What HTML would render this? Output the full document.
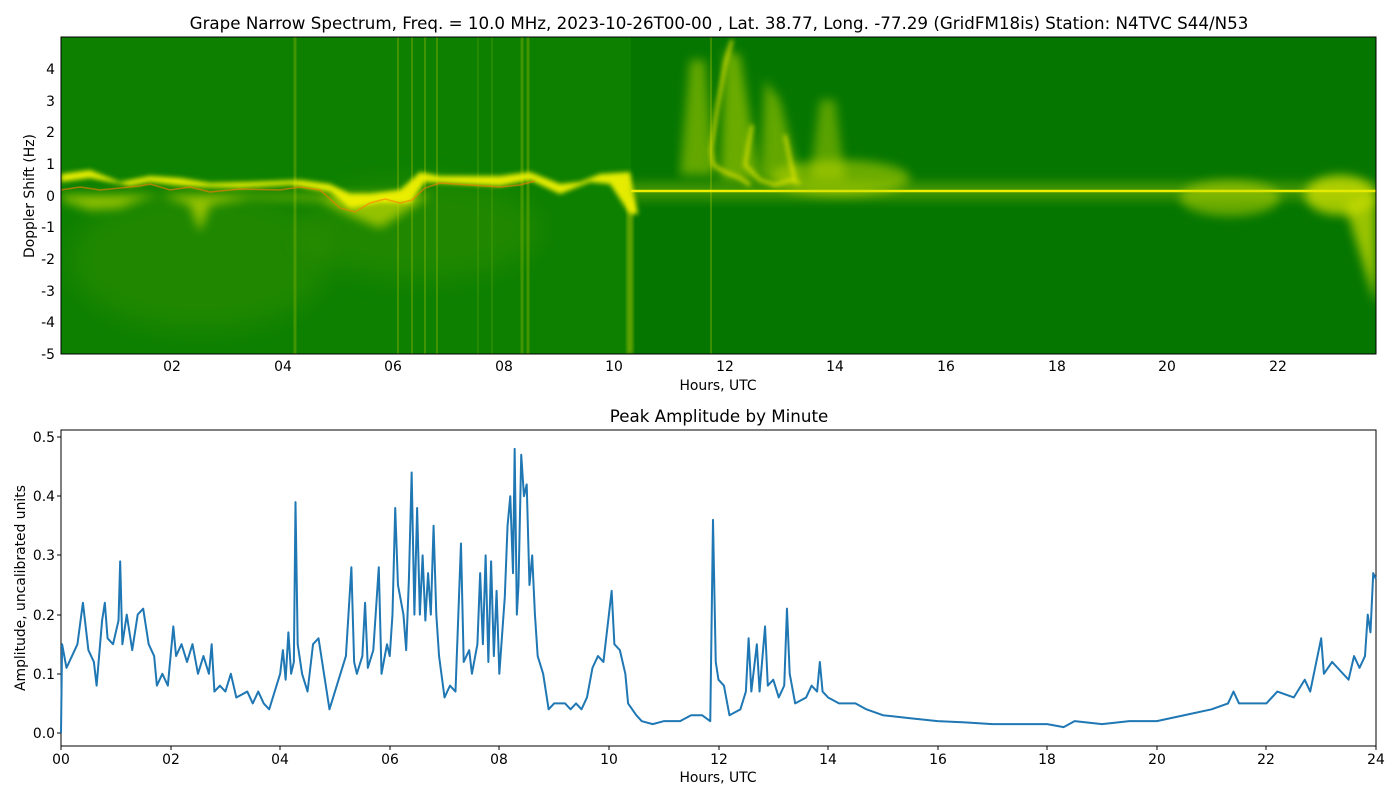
<!DOCTYPE html>
<html><head><meta charset="utf-8"><style>
body{margin:0;background:#fff;width:1400px;height:800px;overflow:hidden;font-family:"Liberation Sans","DejaVu Sans",sans-serif}
svg text{font-family:"DejaVu Sans","Liberation Sans",sans-serif;fill:#000}
</style></head><body>
<svg width="1400" height="800" xmlns="http://www.w3.org/2000/svg">
<defs>
<filter id="b6" x="-20%" y="-50%" width="140%" height="200%"><feGaussianBlur stdDeviation="5"/></filter>
<filter id="b3" x="-20%" y="-50%" width="140%" height="200%"><feGaussianBlur stdDeviation="2.5"/></filter>
<filter id="b12" x="-20%" y="-50%" width="140%" height="200%"><feGaussianBlur stdDeviation="12"/></filter>
<clipPath id="cp"><rect x="61" y="37" width="1315" height="317"/></clipPath>
</defs>
<text x="719" y="29" font-size="16.7" text-anchor="middle">Grape Narrow Spectrum, Freq. = 10.0 MHz, 2023-10-26T00-00 , Lat.  38.77, Long. -77.29 (GridFM18is) Station: N4TVC S44/N53</text>
<g clip-path="url(#cp)">
<rect x="61" y="37" width="1315" height="317" fill="#057600"/>
<rect x="61" y="37" width="570" height="317" fill="#0d8000"/>
<ellipse cx="200" cy="260" rx="130" ry="70" fill="#4a9a00" opacity="0.3" filter="url(#b12)"/>
<ellipse cx="420" cy="230" rx="120" ry="50" fill="#4a9a00" opacity="0.3" filter="url(#b12)"/>
<g stroke="#7fb000" opacity="0.45">
<line x1="295" y1="37" x2="295" y2="354" stroke-width="3"/>
<line x1="398" y1="37" x2="398" y2="354" stroke-width="2"/>
<line x1="412" y1="37" x2="412" y2="354" stroke-width="2"/>
<line x1="425" y1="37" x2="425" y2="354" stroke-width="2"/>
<line x1="437" y1="37" x2="437" y2="354" stroke-width="2"/>
<line x1="478" y1="37" x2="478" y2="354" stroke-width="1"/>
<line x1="492" y1="37" x2="492" y2="354" stroke-width="1"/>
<line x1="522" y1="37" x2="522" y2="354" stroke-width="3"/>
<line x1="528" y1="37" x2="528" y2="354" stroke-width="3"/>
<line x1="711" y1="37" x2="711" y2="354" stroke-width="2"/>
</g>
<rect x="627" y="200" width="6" height="154" fill="#b0c800" opacity="0.6" filter="url(#b3)"/>
<!-- main yellow band -->
<path d="M61,200 L90,210 L120,208 L140,200 L160,195 L190,205 L200,232 L210,205 L250,198 L320,200 L350,215 L380,228 L400,215 L430,195 L61,195 Z" fill="#c8dc00" opacity="0.7" filter="url(#b6)"/>
<path d="M61,182 L90,178 L130,186 L150,182 L175,185 L200,187 L240,188 L290,185 L330,192 L350,208 L380,203 L410,203 L425,182 L460,184 L500,186 L530,180 L560,194 L590,182 L610,184 L630,214 L638,214 L630,172 L600,174 L580,182 L560,184 L530,172 L500,176 L470,176 L440,176 L420,172 L400,190 L370,194 L350,194 L330,184 L300,180 L250,182 L210,183 L180,178 L150,176 L120,182 L90,170 L61,174 Z" fill="#f2f200" opacity="0.95" filter="url(#b3)"/>
<polyline points="61,190 80,187 100,190 120,188 140,186 150,184 170,190 190,187 210,192 240,189 280,190 300,187 320,190 340,208 355,212 370,203 385,199 400,203 412,200 425,188 440,183 470,185 500,187 520,185 535,181" fill="none" stroke="#ff7a00" stroke-width="1.5" opacity="0.6"/>
<!-- right side band -->
<rect x="631" y="182" width="745" height="18" fill="#a8cc00" opacity="0.35" filter="url(#b6)"/>
<line x1="631" y1="191" x2="1376" y2="191" stroke="#eeee00" stroke-width="2.5"/>
<ellipse cx="1230" cy="198" rx="50" ry="18" fill="#c8dc00" opacity="0.5" filter="url(#b6)"/>
<ellipse cx="1340" cy="195" rx="35" ry="20" fill="#e0e800" opacity="0.7" filter="url(#b6)"/>
<path d="M1345,205 L1376,305 L1376,195 Z" fill="#d8e400" opacity="0.7" filter="url(#b6)"/>
<ellipse cx="840" cy="178" rx="70" ry="18" fill="#c0d800" opacity="0.55" filter="url(#b6)"/>
<!-- 11-14h traces -->
<path d="M690,60 L705,60 L715,175 L680,175 Z" fill="#c0d800" opacity="0.5" filter="url(#b6)"/>
<path d="M725,50 L740,55 L760,180 L720,180 Z" fill="#c0d800" opacity="0.55" filter="url(#b6)"/>
<path d="M765,80 L780,100 L800,180 L760,180 Z" fill="#c0d800" opacity="0.5" filter="url(#b6)"/>
<path d="M820,100 L835,100 L845,180 L810,180 Z" fill="#c0d800" opacity="0.45" filter="url(#b6)"/>
<g filter="url(#b3)" opacity="0.9">
<polyline points="732,40 725,65 717,110 711,150 713,165 725,172 740,178 750,185" fill="none" stroke="#f0e800" stroke-width="3"/>
<polyline points="752,125 745,165 760,180 775,185 790,180 800,183" fill="none" stroke="#e8e800" stroke-width="3"/>
<polyline points="785,135 790,160 795,180" fill="none" stroke="#e8e800" stroke-width="3"/>
</g>
</g>
<rect x="61" y="37" width="1315" height="317" fill="none" stroke="#000" stroke-width="1"/>
<g font-size="13.9" text-anchor="end">
<text x="55" y="74">4</text><text x="55" y="106">3</text><text x="55" y="137">2</text><text x="55" y="169">1</text><text x="55" y="201">0</text><text x="55" y="232">-1</text><text x="55" y="264">-2</text><text x="55" y="296">-3</text><text x="55" y="327">-4</text><text x="55" y="359">-5</text>
</g>
<g font-size="13.9" text-anchor="middle">
<text x="172" y="371">02</text><text x="283" y="371">04</text><text x="393" y="371">06</text><text x="504" y="371">08</text><text x="614" y="371">10</text><text x="725" y="371">12</text><text x="835" y="371">14</text><text x="946" y="371">16</text><text x="1057" y="371">18</text><text x="1167" y="371">20</text><text x="1278" y="371">22</text>
<text x="718" y="390">Hours, UTC</text>
</g>
<text transform="translate(34,196) rotate(-90)" font-size="13.9" text-anchor="middle">Doppler Shift (Hz)</text>

<text x="719" y="422" font-size="16.7" text-anchor="middle">Peak Amplitude by Minute</text>
<rect x="61" y="430" width="1315" height="316" fill="none" stroke="#000" stroke-width="1"/>
<g stroke="#000">
<line x1="57" y1="733" x2="61" y2="733"/><line x1="57" y1="674" x2="61" y2="674"/><line x1="57" y1="615" x2="61" y2="615"/><line x1="57" y1="555" x2="61" y2="555"/><line x1="57" y1="496" x2="61" y2="496"/><line x1="57" y1="437" x2="61" y2="437"/>
</g>
<g font-size="13.9" text-anchor="end">
<text x="55" y="738">0.0</text><text x="55" y="679">0.1</text><text x="55" y="620">0.2</text><text x="55" y="560">0.3</text><text x="55" y="501">0.4</text><text x="55" y="442">0.5</text>
</g>
<g stroke="#000">
<line x1="61" y1="746" x2="61" y2="750"/><line x1="171" y1="746" x2="171" y2="750"/><line x1="280" y1="746" x2="280" y2="750"/><line x1="390" y1="746" x2="390" y2="750"/><line x1="499" y1="746" x2="499" y2="750"/><line x1="609" y1="746" x2="609" y2="750"/><line x1="719" y1="746" x2="719" y2="750"/><line x1="828" y1="746" x2="828" y2="750"/><line x1="938" y1="746" x2="938" y2="750"/><line x1="1047" y1="746" x2="1047" y2="750"/><line x1="1157" y1="746" x2="1157" y2="750"/><line x1="1266" y1="746" x2="1266" y2="750"/><line x1="1376" y1="746" x2="1376" y2="750"/>
</g>
<g font-size="13.9" text-anchor="middle">
<text x="61" y="764">00</text><text x="171" y="764">02</text><text x="280" y="764">04</text><text x="390" y="764">06</text><text x="499" y="764">08</text><text x="609" y="764">10</text><text x="719" y="764">12</text><text x="828" y="764">14</text><text x="938" y="764">16</text><text x="1047" y="764">18</text><text x="1157" y="764">20</text><text x="1266" y="764">22</text><text x="1376" y="764">24</text>
<text x="718" y="782">Hours, UTC</text>
</g>
<text transform="translate(25,588) rotate(-90)" font-size="13.9" text-anchor="middle">Amplitude, uncalibrated units</text>
<g transform="translate(61,733) scale(54.79,-592)">
<polyline fill="none" stroke="#1f77b4" stroke-width="2" vector-effect="non-scaling-stroke" stroke-linejoin="round" points="0,0 0.02,0.15 0.1,0.11 0.2,0.13 0.3,0.15 0.4,0.22 0.5,0.14 0.6,0.12 0.65,0.08 0.75,0.19 0.8,0.22 0.85,0.16 0.95,0.15 1.05,0.19 1.08,0.29 1.12,0.15 1.2,0.2 1.3,0.14 1.4,0.2 1.5,0.21 1.6,0.15 1.7,0.13 1.75,0.08 1.85,0.1 1.95,0.08 2.0,0.13 2.05,0.18 2.1,0.13 2.2,0.15 2.3,0.12 2.4,0.15 2.5,0.1 2.6,0.13 2.7,0.1 2.75,0.15 2.8,0.07 2.9,0.08 3.0,0.07 3.1,0.1 3.2,0.06 3.4,0.07 3.5,0.05 3.6,0.07 3.7,0.05 3.8,0.04 3.9,0.07 4.0,0.1 4.05,0.14 4.1,0.09 4.15,0.17 4.2,0.1 4.25,0.12 4.28,0.39 4.32,0.15 4.4,0.1 4.5,0.07 4.6,0.15 4.7,0.16 4.8,0.1 4.9,0.04 5.0,0.07 5.1,0.1 5.2,0.13 5.3,0.28 5.35,0.12 5.4,0.1 5.5,0.13 5.55,0.22 5.6,0.11 5.7,0.14 5.8,0.28 5.85,0.1 5.95,0.15 6.0,0.13 6.05,0.2 6.1,0.38 6.15,0.25 6.25,0.2 6.3,0.14 6.35,0.26 6.4,0.44 6.45,0.2 6.5,0.38 6.55,0.2 6.6,0.3 6.65,0.19 6.7,0.27 6.75,0.2 6.8,0.35 6.85,0.2 6.9,0.13 7.0,0.06 7.1,0.08 7.2,0.07 7.3,0.32 7.35,0.12 7.45,0.14 7.5,0.1 7.6,0.15 7.65,0.27 7.7,0.15 7.75,0.3 7.8,0.12 7.85,0.29 7.9,0.13 7.95,0.24 8.0,0.1 8.1,0.23 8.15,0.35 8.2,0.4 8.25,0.27 8.28,0.48 8.32,0.2 8.35,0.25 8.4,0.47 8.45,0.4 8.5,0.42 8.55,0.25 8.6,0.3 8.65,0.2 8.7,0.13 8.8,0.1 8.9,0.04 9.0,0.05 9.2,0.05 9.3,0.04 9.4,0.05 9.5,0.04 9.6,0.06 9.7,0.11 9.8,0.13 9.9,0.12 10.0,0.2 10.05,0.24 10.1,0.15 10.2,0.14 10.3,0.1 10.35,0.05 10.5,0.03 10.6,0.02 10.8,0.015 11.0,0.02 11.3,0.02 11.5,0.03 11.7,0.03 11.85,0.02 11.9,0.36 11.95,0.12 12.0,0.09 12.1,0.08 12.2,0.03 12.4,0.04 12.5,0.07 12.55,0.16 12.6,0.07 12.7,0.15 12.75,0.07 12.85,0.18 12.9,0.08 13.0,0.09 13.1,0.06 13.2,0.08 13.25,0.21 13.3,0.1 13.4,0.05 13.6,0.06 13.7,0.08 13.8,0.07 13.85,0.12 13.9,0.07 14.0,0.06 14.2,0.05 14.5,0.05 14.7,0.04 15.0,0.03 15.5,0.025 16,0.02 16.5,0.018 17,0.015 17.5,0.015 18,0.015 18.3,0.01 18.5,0.02 19,0.015 19.5,0.02 20,0.02 20.5,0.03 21,0.04 21.3,0.05 21.4,0.07 21.5,0.05 22,0.05 22.2,0.07 22.5,0.06 22.7,0.09 22.8,0.07 23.0,0.16 23.05,0.1 23.2,0.12 23.3,0.11 23.5,0.09 23.6,0.13 23.7,0.11 23.8,0.13 23.85,0.2 23.9,0.17 23.95,0.27 24,0.26"/>
</g>
</svg>
</body></html>
